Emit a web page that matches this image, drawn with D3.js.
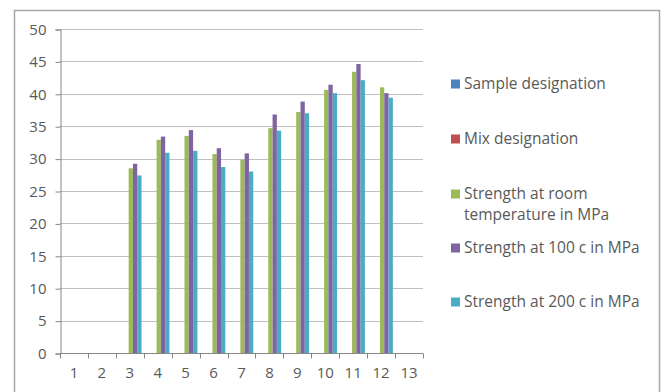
<!DOCTYPE html>
<html>
<head>
<meta charset="utf-8">
<script src="https://cdn.jsdelivr.net/npm/d3@7"></script>
<style>
  html, body { margin: 0; padding: 0; background: #fff; }
  svg { display: block; }
  text { font-family: "Open Sans", "Liberation Sans", sans-serif; fill: #595959; }
</style>
</head>
<body>
<svg id="chart" width="670" height="392"></svg>
<script>
const categories = ["1","2","3","4","5","6","7","8","9","10","11","12","13"];
const seriesNames = ["Sample designation","Mix designation","Strength at room temperature in MPa","Strength at 100 c in MPa","Strength at 200 c in MPa"];
const seriesColors = ["#4F81BD","#C0504D","#9BBB59","#8064A2","#4BACC6"];
const sampleDesignation = [null,null,null,null,null,null,null,null,null,null,null,null,null];
const mixDesignation    = [null,null,null,null,null,null,null,null,null,null,null,null,null];
const strengthRoom = [null,null,28.5,32.9,33.5,30.7,29.8,34.7,37.2,40.6,43.4,41.0,null];
const strength100  = [null,null,29.2,33.4,34.4,31.6,30.8,36.8,38.8,41.4,44.6,40.1,null];
const strength200  = [null,null,27.4,30.9,31.2,28.7,28.0,34.3,37.0,40.1,42.1,39.4,null];
const yTicks = [0,5,10,15,20,25,30,35,40,45,50];

const seriesValues = [sampleDesignation, mixDesignation, strengthRoom, strength100, strength200];

const svg = d3.select("#chart");

// outer border
svg.append("rect").attr("x",14.5).attr("y",10.5).attr("width",645).attr("height",400)
  .attr("fill","none").attr("stroke","#a6a6a6").attr("stroke-width",1.5);

const plot = {left: 60, right: 423, top: 29, bottom: 353};

const x0 = d3.scaleBand().domain(categories).range([plot.left, plot.right]).paddingInner(0).paddingOuter(0);
const x1 = d3.scaleBand().domain(d3.range(seriesNames.length)).range([0, x0.bandwidth()]).paddingInner(0).paddingOuter(0.75);
const y = d3.scaleLinear().domain([0,50]).range([plot.bottom, plot.top]);

// gridlines
svg.append("g").selectAll("line").data(yTicks.filter(d => d > 0)).join("line")
  .attr("x1", plot.left).attr("x2", plot.right)
  .attr("y1", d => Math.round(y(d)) + 0.5).attr("y2", d => Math.round(y(d)) + 0.5)
  .attr("stroke", "#bfbfbf").attr("stroke-width", 1);

// y axis
const yAxis = d3.axisLeft(y).tickValues(yTicks).tickSize(5).tickPadding(9).tickFormat(d3.format("d"));
const gy = svg.append("g").attr("transform", `translate(${plot.left + 0.5},0.5)`).call(yAxis);
gy.select(".domain").attr("stroke", "#868686");
gy.selectAll(".tick line").attr("stroke", "#868686");
gy.selectAll(".tick text").attr("font-size", 15).style("fill", "#595959");

// bars
const barsData = [];
seriesValues.forEach((vals, si) => {
  vals.forEach((v, ci) => {
    if (v !== null) barsData.push({cat: categories[ci], si, v});
  });
});
svg.append("g").selectAll("rect").data(barsData).join("rect")
  .attr("x", d => x0(d.cat) + x1(d.si) + 1)
  .attr("width", x1.bandwidth())
  .attr("y", d => y(d.v))
  .attr("height", d => y(0) - y(d.v))
  .attr("fill", d => seriesColors[d.si]);

// x axis
const xAxisScale = d3.scaleLinear().domain([0, categories.length]).range([plot.left, plot.right]);
const xAxis = d3.axisBottom(x0).tickSize(0).tickPadding(14);
const gx = svg.append("g").attr("transform", `translate(0,${plot.bottom + 0.5})`).call(xAxis);
gx.select(".domain").remove();
gx.selectAll(".tick text").attr("font-size", 15).style("fill", "#595959");
const gxl = svg.append("g").attr("transform", `translate(0,${plot.bottom + 0.5})`);
gxl.append("line").attr("x1", plot.left).attr("x2", plot.right).attr("stroke", "#868686");
gxl.selectAll("line.t").data(d3.range(categories.length + 1)).join("line").attr("class","t")
  .attr("x1", d => Math.round(xAxisScale(d)) + 0.5).attr("x2", d => Math.round(xAxisScale(d)) + 0.5)
  .attr("y1", 0).attr("y2", 5).attr("stroke", "#868686");

// legend
const legendY = [84, 139, 194, 248, 302];
const legendLines = [["Sample designation"],["Mix designation"],["Strength at room","temperature in MPa"],["Strength at 100 c in MPa"],["Strength at 200 c in MPa"]];
const lg = svg.append("g");
seriesNames.forEach((name, i) => {
  const g = lg.append("g").attr("transform", `translate(451,${legendY[i]})`);
  g.append("rect").attr("x",0).attr("y",-4.5).attr("width",9).attr("height",9).attr("fill", seriesColors[i]);
  legendLines[i].forEach((ln, k) => {
    g.append("text").attr("x", 13).attr("y", k * 21).attr("dy","0.35em")
      .attr("font-size", 15.5).text(ln);
  });
});
</script>
</body>
</html>
